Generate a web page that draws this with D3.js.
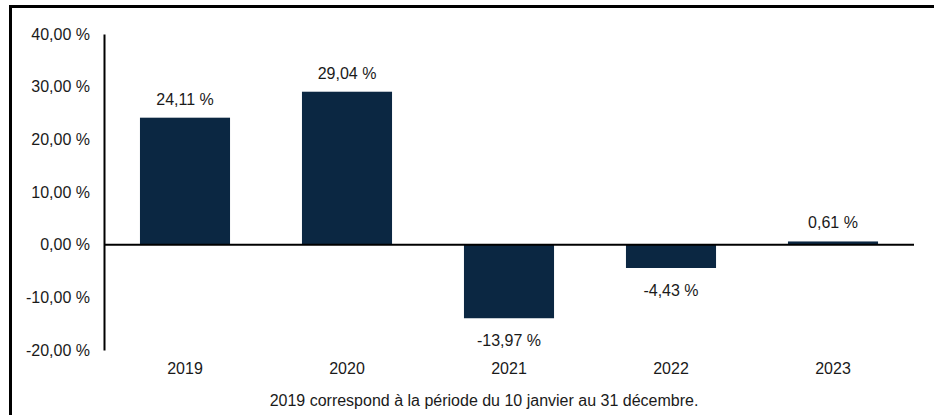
<!DOCTYPE html>
<html>
<head>
<meta charset="utf-8">
<script src="https://cdn.jsdelivr.net/npm/d3@7"></script>
<style>
  body { margin: 0; background: #fff; }
  svg text { font-family: "Liberation Sans", Arial, sans-serif; fill: #1a1a1a; }
</style>
</head>
<body>
<div id="chart"></div>
<script>
// data
const years = ["2019", "2020", "2021", "2022", "2023"];
const returns = [24.11, 29.04, -13.97, -4.43, 0.61];
const yTicks = [-20, -10, 0, 10, 20, 30, 40];
const footnote = "2019 correspond à la période du 10 janvier au 31 décembre.";

const W = 934, H = 415;
const plot = { left: 104, right: 914, top: 34, bottom: 350 };

const svg = d3.select("#chart").append("svg")
  .attr("width", W)
  .attr("height", H);

svg.append("rect").attr("width", W).attr("height", H).attr("fill", "#fff");

// outer frame (only top and left visible in the crop)
svg.append("path")
  .attr("d", `M10.5,${H + 5} L10.5,6.5 L${W + 5},6.5`)
  .attr("fill", "none")
  .attr("stroke", "#000")
  .attr("stroke-width", 3);

const x = d3.scaleBand()
  .domain(years)
  .range([plot.left, plot.right])
  .paddingInner(0.444)
  .paddingOuter(0.222);

const y = d3.scaleLinear()
  .domain([-20, 40])
  .range([plot.bottom, plot.top]);

// french style: comma decimal, plain hyphen for negatives
const fmt = v => (v < 0 ? "-" : "") + Math.abs(v).toFixed(2).replace(".", ",") + " %";

// y axis
const yAxis = svg.append("g")
  .attr("transform", `translate(${plot.left},0)`)
  .call(d3.axisLeft(y).tickValues(yTicks).tickSize(0).tickPadding(14).tickFormat(fmt));
yAxis.select(".domain").attr("stroke", "#000").attr("stroke-width", 2);
yAxis.selectAll("text").style("font-size", "16px").attr("fill", "#1a1a1a");

// bars
svg.selectAll(".bar")
  .data(returns)
  .enter()
  .append("rect")
  .attr("class", "bar")
  .attr("x", (d, i) => x(years[i]))
  .attr("width", x.bandwidth())
  .attr("y", d => y(Math.max(0, d)))
  .attr("height", d => Math.abs(y(d) - y(0)))
  .attr("fill", "#0b2742");

// zero line
svg.append("line")
  .attr("x1", plot.left).attr("x2", plot.right)
  .attr("y1", y(0)).attr("y2", y(0))
  .attr("stroke", "#000")
  .attr("stroke-width", 2);

// value labels
svg.selectAll(".val")
  .data(returns)
  .enter()
  .append("text")
  .attr("class", "val")
  .attr("x", (d, i) => x(years[i]) + x.bandwidth() / 2)
  .attr("y", d => d >= 0 ? y(d) - 13 : y(d) + 28)
  .attr("text-anchor", "middle")
  .style("font-size", "16px")
  .text(fmt);

// category labels
svg.selectAll(".cat")
  .data(years)
  .enter()
  .append("text")
  .attr("class", "cat")
  .attr("x", d => x(d) + x.bandwidth() / 2)
  .attr("y", 374)
  .attr("text-anchor", "middle")
  .style("font-size", "16px")
  .text(d => d);

svg.append("text")
  .attr("x", 484)
  .attr("y", 406)
  .attr("text-anchor", "middle")
  .style("font-size", "16px")
  .text(footnote);
</script>
</body>
</html>
